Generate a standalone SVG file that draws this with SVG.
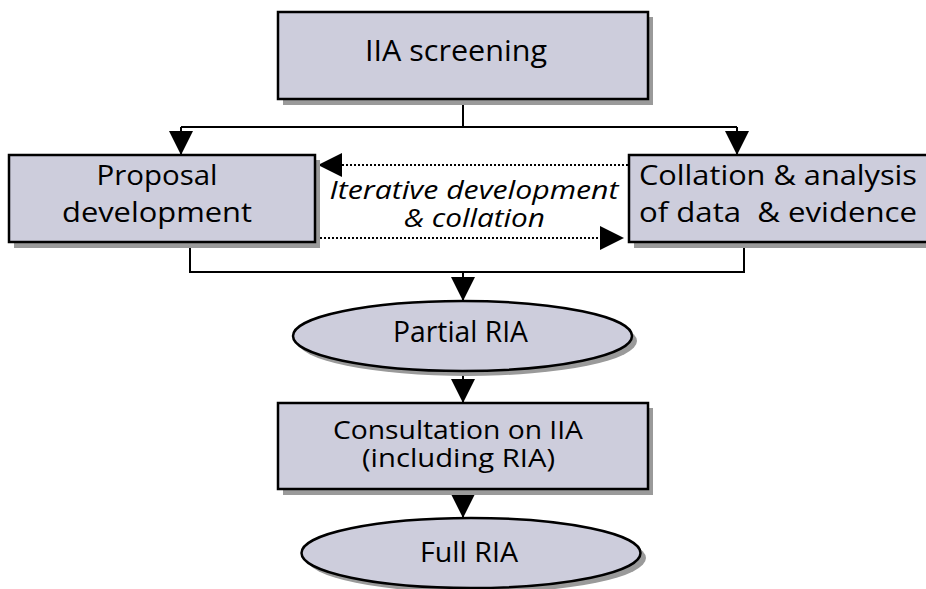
<svg xmlns="http://www.w3.org/2000/svg" width="926" height="589" viewBox="0 0 926 589">
<style>
.box{fill:#cdcddc;stroke:#000;stroke-width:2.5}
.sh{fill:#9a9a9a}
.ln{fill:none;stroke:#000;stroke-width:2}
.dt{fill:none;stroke:#000;stroke-width:2;stroke-dasharray:2 2}
.t{font-family:"Open Sans","Noto Sans",sans-serif;fill:#000;text-anchor:middle}
.it{font-style:italic}
</style>
<defs>
<marker id="ah" markerUnits="userSpaceOnUse" markerWidth="24" markerHeight="24" viewBox="0 0 22 22" refX="22" refY="11" orient="auto">
<path d="M0,0 L22,11 L0,22 Z" fill="#000"/>
</marker>
</defs>
<rect width="926" height="589" fill="#fff"/>
<g id="connectors">
<path class="ln" d="M463,99 V127"/>
<path class="ln" d="M181,127 H737"/>
<path class="ln" d="M181,127 V155" marker-end="url(#ah)"/>
<path class="ln" d="M737,127 V155" marker-end="url(#ah)"/>
<path class="dt" d="M628,165 H318" marker-end="url(#ah)"/>
<path class="dt" d="M320,238 H624" marker-end="url(#ah)"/>
<path class="ln" d="M190,242 V272 H744 V242"/>
<path class="ln" d="M463,272 V301" marker-end="url(#ah)"/>
<path class="ln" d="M463,371 V403" marker-end="url(#ah)"/>
<path class="ln" d="M463,489 V518" marker-end="url(#ah)"/>
<text class="t it" x="474" y="199" font-size="25" textLength="289" lengthAdjust="spacingAndGlyphs">Iterative development</text>
<text class="t it" x="474.5" y="227" font-size="25" textLength="141" lengthAdjust="spacingAndGlyphs">&amp; collation</text>
</g>
<g id="iia-screening">
<rect class="sh" x="283" y="17" width="370" height="88"/>
<rect class="box" x="278" y="12" width="370" height="87"/>
<text class="t" x="456" y="61" font-size="30" textLength="182" lengthAdjust="spacingAndGlyphs">IIA screening</text>
</g>
<g id="proposal-development">
<rect class="sh" x="14" y="160" width="306" height="88"/>
<rect class="box" x="9" y="155" width="306" height="87"/>
<text class="t" x="157" y="185" font-size="28" textLength="121" lengthAdjust="spacingAndGlyphs">Proposal</text>
<text class="t" x="157" y="222" font-size="28" textLength="190" lengthAdjust="spacingAndGlyphs">development</text>
</g>
<g id="collation-analysis">
<rect class="sh" x="634" y="160" width="320" height="88"/>
<rect class="box" x="629" y="155" width="320" height="87"/>
<text class="t" x="639" y="185" font-size="28" style="text-anchor:start" textLength="278" lengthAdjust="spacingAndGlyphs">Collation &amp; analysis</text>
<text class="t" x="639" y="222" font-size="28" style="text-anchor:start" xml:space="preserve" textLength="278" lengthAdjust="spacingAndGlyphs">of data  &amp; evidence</text>
</g>
<g id="partial-ria">
<ellipse class="sh" cx="467" cy="341" rx="170" ry="35"/>
<ellipse class="box" cx="462.5" cy="336" rx="169.5" ry="35"/>
<text class="t" x="460.5" y="342" font-size="29" textLength="135" lengthAdjust="spacingAndGlyphs">Partial RIA</text>
</g>
<g id="consultation">
<rect class="sh" x="283" y="408" width="370" height="87"/>
<rect class="box" x="278" y="403" width="370" height="86"/>
<text class="t" x="458" y="439" font-size="25" textLength="250" lengthAdjust="spacingAndGlyphs">Consultation on IIA</text>
<text class="t" x="458.5" y="467" font-size="25" textLength="193" lengthAdjust="spacingAndGlyphs">(including RIA)</text>
</g>
<g id="full-ria">
<ellipse class="sh" cx="476" cy="558" rx="170" ry="35"/>
<ellipse class="box" cx="471" cy="553" rx="169.5" ry="35"/>
<text class="t" x="469" y="562" font-size="28" textLength="98" lengthAdjust="spacingAndGlyphs">Full RIA</text>
</g>
</svg>
